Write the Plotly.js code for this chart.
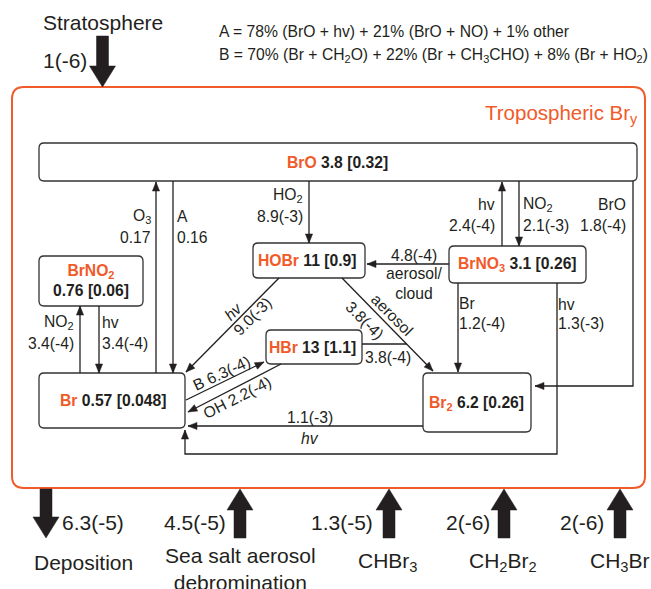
<!DOCTYPE html>
<html><head><meta charset="utf-8">
<script src="https://cdn.plot.ly/plotly-3.0.1.min.js"></script>
<style>html,body{margin:0;padding:0;background:#fff}</style>
</head><body><div id="chart" style="width:651px;height:589px"></div>
<script>
// ---------------- data ----------------
const speciesNames  = ['BrO','HOBr','BrNO<sub>3</sub>','BrNO<sub>2</sub>','Br','HBr','Br<sub>2</sub>'];
const speciesBurden = ['3.8','11','3.1','0.76','0.57','13','6.2'];
const speciesMixing = ['0.32','0.9','0.26','0.06','0.048','1.1','0.26'];
const fluxAgents = ['O<sub>3</sub>','A','HO<sub>2</sub>','hv','NO<sub>2</sub>','BrO','aerosol/<br>cloud','Br','hv','NO<sub>2</sub>','hv','<i>hv</i>','aerosol','','B','OH','<i>hv</i>'];
const fluxValues = ['0.17','0.16','8.9(-3)','2.4(-4)','2.1(-3)','1.8(-4)','4.8(-4)','1.2(-4)','1.3(-3)','3.4(-4)','3.4(-4)','9.0(-3)','3.8(-4)','3.8(-4)','6.3(-4)','2.2(-4)','1.1(-3)'];
const boundaryNames  = ['Deposition','Sea salt aerosol<br>debromination','CHBr<sub>3</sub>','CH<sub>2</sub>Br<sub>2</sub>','CH<sub>3</sub>Br'];
const boundaryFluxes = ['6.3(-5)','4.5(-5)','1.3(-5)','2(-6)','2(-6)'];
const stratName = 'Stratosphere';
const stratFlux = '1(-6)';
const regionName = 'Tropospheric Br<sub>y</sub>';
const noteA = 'A = 78% (BrO + hv) + 21% (BrO + NO) + 1% other';
const noteB = 'B = 70% (Br + CH<sub>2</sub>O) + 22% (Br + CH<sub>3</sub>CHO) + 8% (Br + HO<sub>2</sub>)';

// ---------------- layout geometry ----------------
const ORANGE = '#f15a29', INK = '#231f20';
const FONT = 'Liberation Sans, Arial, Helvetica, sans-serif';
const FS = 15.7, BIG = 21;
const boxGeom = [[39,143,637,181],[253,243,365,278],[449,246,586,283],[39,256,143,306],[39,373,185,428],[266,330,362,364],[423,373,531,432]];
const labelGeom = [[337,162],[307,260],[517,264],[91,280],[113,400],[312,347],[476,403]];
const fluxPaths = [
  [[156,373],[156,182]],
  [[173,181],[173,373]],
  [[309,181],[309,243]],
  [[502,246],[502,182]],
  [[519,181],[519,246]],
  [[633,181],[633,386],[535,386]],
  [[449,264],[367,264]],
  [[458,283],[458,372]],
  [[557,283],[557,454],[185,454],[185,430]],
  [[80,373],[80,306]],
  [[99,306],[99,373]],
  [[279,278],[186,372]],
  [[342,278],[433,371]],
  [[362,344],[407,344]],
  [[186,400],[264,362]],
  [[281,364],[188,412]],
  [[423,426],[188,426]]
];
const fluxHead = [1,1,1,1,1,1,1,1,1,1,1,1,1,0,1,1,1];
// [x,y,xanchor,angle] for agent (a) and value (v); c = combined
const fluxLabelGeom = [
  {a:[152,216,'right',0], v:[152,237,'right',0]},
  {a:[176,216,'left',0],  v:[176,237,'left',0]},
  {a:[304,195,'right',0], v:[304,216,'right',0]},
  {a:[496,204,'right',0], v:[496,225,'right',0]},
  {a:[522,204,'left',0],  v:[522,225,'left',0]},
  {a:[627,204,'right',0], v:[627,225,'right',0]},
  {a:[414,283,'center',0],v:[414,255,'center',0]},
  {a:[458,303,'left',0],  v:[458,323,'left',0]},
  {a:[557,304,'left',0],  v:[557,323,'left',0]},
  {a:[75,322,'right',0],  v:[75,343,'right',0]},
  {a:[101,322,'left',0],  v:[101,343,'left',0]},
  {a:[233,311,'center',-45], v:[252,316,'center',-45]},
  {a:[392,314,'center',45],  v:[365,320,'center',45]},
  {v:[388,357,'center',0]},
  {c:[221,373,'center',-25]},
  {c:[237,397,'center',-27]},
  {a:[310,438,'center',0], v:[310,417,'center',0]}
];
const boundaryX = [46,240,389,504,620];
const boundaryDir = [1,-1,-1,-1,-1]; // 1 = leaving (down), -1 = entering (up)
const boundaryNameGeom = [[83,562],[240,569],[388,562],[503,562],[620,562]];
const boundaryFluxGeom = [[61,522,'left'],[227,522,'right'],[374,522,'right'],[491,522,'right'],[605,522,'right']];

// ---------------- helpers ----------------
const shapes = [], annotations = [];
function rr(x0,y0,x1,y1,r){
  return `M${x0+r},${y0} L${x1-r},${y0} Q${x1},${y0} ${x1},${y0+r} L${x1},${y1-r} Q${x1},${y1} ${x1-r},${y1} L${x0+r},${y1} Q${x0},${y1} ${x0},${y1-r} L${x0},${y0+r} Q${x0},${y0} ${x0+r},${y0} Z`;
}
function addArrow(pts, head){
  shapes.push({type:'path', xref:'x', yref:'y', path:'M'+pts.map(p=>p[0]+','+p[1]).join(' L'), line:{color:INK,width:1.3}});
  if(!head) return;
  const P = pts[pts.length-1], Q = pts[pts.length-2];
  let dx=P[0]-Q[0], dy=P[1]-Q[1]; const L=Math.hypot(dx,dy); dx/=L; dy/=L;
  const len=9, w=3.6, bx=P[0]-dx*len, by=P[1]-dy*len;
  shapes.push({type:'path', xref:'x', yref:'y', fillcolor:INK, line:{color:INK,width:0.5},
    path:`M${P[0]},${P[1]} L${bx-dy*w},${by+dx*w} L${bx+dy*w},${by-dx*w} Z`});
}
function bigArrow(cx, yTail, yTip){
  const s=6, h=13, hl=21, d = yTip>yTail?1:-1, yb = yTip - d*hl;
  shapes.push({type:'path', xref:'x', yref:'y', fillcolor:INK, line:{color:INK,width:0.5},
    path:`M${cx-s},${yTail} L${cx+s},${yTail} L${cx+s},${yb} L${cx+h},${yb} L${cx},${yTip} L${cx-h},${yb} L${cx-s},${yb} Z`});
}
function ann(x,y,text,opt){
  opt = opt||{};
  annotations.push({x:x, y:y, xref:'x', yref:'y', text:text, showarrow:false,
    xanchor:opt.xa||'center', yanchor:'middle', textangle:opt.ang||0, borderpad:0,
    font:{family:FONT, size:opt.size||FS, color:opt.color||INK}});
}

// ---------------- build ----------------
shapes.push({type:'path', xref:'x', yref:'y', path:rr(12,87,645,488,12), line:{color:ORANGE,width:2}});
boxGeom.forEach(b=>shapes.push({type:'path', xref:'x', yref:'y', path:rr(b[0],b[1],b[2],b[3],5), line:{color:'#333333',width:1.3}}));
speciesNames.forEach((n,i)=>{
  const g=labelGeom[i];
  const name = `<span style="color:${ORANGE}">${n}</span>`;
  const vals = `${speciesBurden[i]} [${speciesMixing[i]}]`;
  if(i===3){
    ann(g[0], g[1], `<b>${name}<br>${vals}</b>`, {size:FS});
  } else {
    ann(g[0], g[1], `<b>${name} ${vals}</b>`, {size:FS});
  }
});
fluxPaths.forEach((p,i)=>addArrow(p, fluxHead[i]));
fluxLabelGeom.forEach((g,i)=>{
  if(g.c){ ann(g.c[0],g.c[1], fluxAgents[i]+' '+fluxValues[i], {xa:g.c[2], ang:g.c[3]}); return; }
  if(g.a && fluxAgents[i]) ann(g.a[0],g.a[1], fluxAgents[i], {xa:g.a[2], ang:g.a[3]});
  if(g.v) ann(g.v[0],g.v[1], fluxValues[i], {xa:g.v[2], ang:g.v[3]});
});
// stratosphere input
bigArrow(102.5, 36, 87);
ann(103, 22, stratName, {size:BIG});
ann(88, 60, stratFlux, {size:BIG, xa:'right'});
ann(218, 31, noteA, {size:FS, xa:'left'});
ann(218, 55, noteB, {size:FS, xa:'left'});
ann(639, 114, regionName, {size:20.5, xa:'right', color:ORANGE});
// boundary fluxes
boundaryX.forEach((x,i)=>{
  if(boundaryDir[i]>0) bigArrow(x, 489, 538); else bigArrow(x, 538, 489);
  ann(boundaryFluxGeom[i][0], boundaryFluxGeom[i][1], boundaryFluxes[i], {size:BIG, xa:boundaryFluxGeom[i][2]});
  ann(boundaryNameGeom[i][0], boundaryNameGeom[i][1], boundaryNames[i], {size:BIG});
});

const layout = {
  width:651, height:589, margin:{l:0,r:0,t:0,b:0},
  paper_bgcolor:'#ffffff', plot_bgcolor:'#ffffff', showlegend:false,
  xaxis:{range:[0,651], visible:false, fixedrange:true},
  yaxis:{range:[589,0], visible:false, fixedrange:true},
  shapes:shapes, annotations:annotations
};
Plotly.newPlot('chart', [{type:'scatter', x:[], y:[], mode:'markers'}], layout, {displayModeBar:false, staticPlot:true});
</script></body></html>
